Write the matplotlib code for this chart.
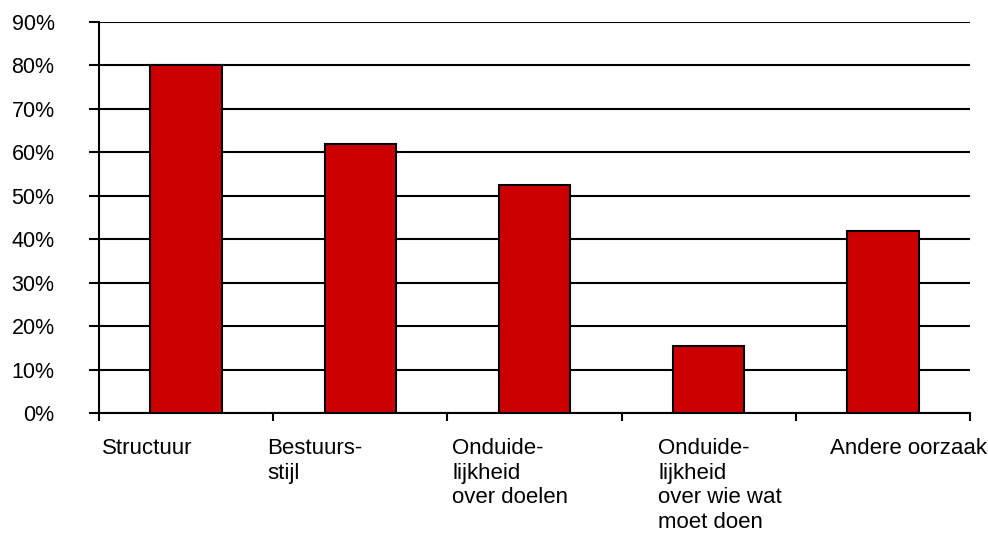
import matplotlib
matplotlib.use("Agg")
import matplotlib.pyplot as plt
from matplotlib.ticker import FixedLocator, NullFormatter
import matplotlib.transforms as mtransforms

categories = ["Structuur", "Bestuurs-\nstijl", "Onduide-\nlijkheid\nover doelen",
              "Onduide-\nlijkheid\nover wie wat\nmoet doen", "Andere oorzaak"]
values = [80, 62, 52.5, 15.5, 42]
y_ticks = [0, 10, 20, 30, 40, 50, 60, 70, 80, 90]
y_labels = [f"{v}%" for v in y_ticks]
label_offsets = [0.017, -0.034, 0.029, 0.21, 0.195]

plt.rcParams['font.family'] = ['Liberation Sans', 'DejaVu Sans']

fig = plt.figure(figsize=(9.88, 5.36), dpi=100)
ax = fig.add_axes([0.1002, 0.2295, 0.8816, 0.7295])

x = list(range(len(categories)))
ax.bar(x, values, width=0.41, color="#CC0000", edgecolor="black", linewidth=1.5, zorder=3)

ax.set_xlim(-0.5, len(categories) - 0.5)
ax.set_ylim(0, 90)
ax.set_yticks(y_ticks)
ax.set_yticklabels(y_labels, fontsize=15.5)
ax.yaxis.grid(True, color="black", linewidth=1.5, zorder=0)
ax.set_axisbelow(True)

ax.xaxis.set_major_locator(FixedLocator([i - 0.5 for i in range(len(categories) + 1)]))
ax.xaxis.set_major_formatter(NullFormatter())
ax.tick_params(axis="x", direction="out", length=6, width=1.5, colors="black")
ax.tick_params(axis="y", direction="out", length=7, width=1.5, pad=25)

for s in ["top", "right"]:
    ax.spines[s].set_visible(False)
ax.spines["left"].set_linewidth(1.5)
ax.spines["bottom"].set_linewidth(1.5)

trans = mtransforms.blended_transform_factory(ax.transData, ax.transAxes)
offset = mtransforms.ScaledTranslation(0, -25 / 100, fig.dpi_scale_trans)
for i, (cat, off) in enumerate(zip(categories, label_offsets)):
    ax.text(i - 0.5 + off, 0, cat, transform=trans + offset, ha="left", va="top",
            fontsize=16, linespacing=1.22)

fig.savefig("out.png", dpi=100)
